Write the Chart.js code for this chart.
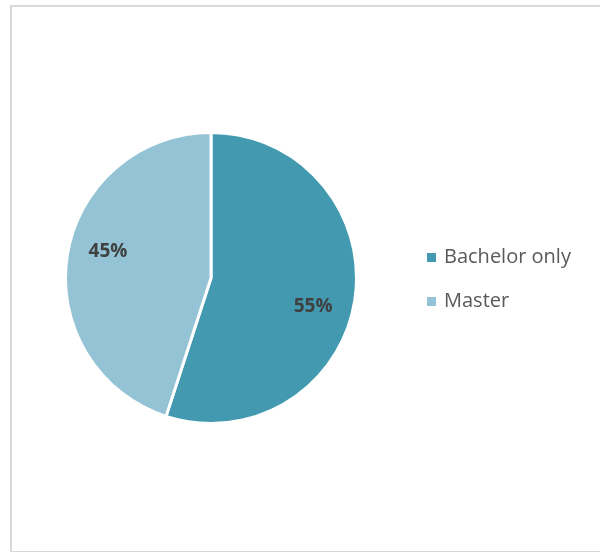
<!DOCTYPE html>
<html>
<head>
<meta charset="utf-8">
<script src="https://cdn.jsdelivr.net/npm/chart.js@4/dist/chart.umd.min.js"></script>
<style>
  html, body { margin: 0; padding: 0; background: #fff; }
  #frame { position: absolute; left: 10px; top: 5px; width: 600px; height: 544px; border: 2px solid #d9d9d9; box-sizing: content-box; }
  #wrap { position: absolute; left: 0; top: 0; width: 600px; height: 552px; }
</style>
</head>
<body>
<div id="frame"></div>
<div id="wrap"><canvas id="c" width="600" height="552"></canvas></div>
<script>
const categories = ["Bachelor only", "Master"];
const values = [55, 45];
const labelsText = ["55%", "45%"];
const colors = ["#4299b0", "#93c3d5"];

const sliceLabels = {
  id: 'sliceLabels',
  afterDatasetsDraw(chart) {
    const ctx = chart.ctx;
    const meta = chart.getDatasetMeta(0);
    ctx.save();
    ctx.font = 'bold 19px "Open Sans", "Noto Sans", sans-serif';
    ctx.fillStyle = '#404040';
    ctx.textAlign = 'center';
    ctx.textBaseline = 'middle';
    meta.data.forEach((arc, i) => {
      const p = arc.getProps(['x','y','startAngle','endAngle','outerRadius'], true);
      const mid = (p.startAngle + p.endAngle) / 2;
      const r = p.outerRadius * 0.73;
      const tilt = (i === 0 ? 0.12 : 0.09);
      const a = mid + tilt * (i === 0 ? 1 : 1);
      ctx.fillText(labelsText[i], p.x + Math.cos(a) * r, p.y + Math.sin(a) * r);
    });
    ctx.restore();
  }
};

const sideLegend = {
  id: 'sideLegend',
  afterDraw(chart) {
    const ctx = chart.ctx;
    ctx.save();
    ctx.font = '20px "Open Sans", "Noto Sans", sans-serif';
    ctx.textBaseline = 'middle';
    ctx.textAlign = 'left';
    chart.data.labels.forEach((lab, i) => {
      const y = 257 + i * 44;
      ctx.fillStyle = chart.data.datasets[0].backgroundColor[i];
      ctx.fillRect(427, y - 4, 9, 9);
      ctx.fillStyle = '#595959';
      ctx.fillText(lab, 444, y);
    });
    ctx.restore();
  }
};

new Chart(document.getElementById('c'), {
  type: 'pie',
  data: {
    labels: categories,
    datasets: [{
      data: values,
      backgroundColor: colors,
      borderColor: '#ffffff',
      borderWidth: 3
    }]
  },
  options: {
    responsive: false,
    animation: false,
    layout: { padding: { left: 64, right: 242, top: 131, bottom: 127 } },
    plugins: { legend: { display: false }, tooltip: { enabled: false } }
  },
  plugins: [sliceLabels, sideLegend]
});
</script>
</body>
</html>
